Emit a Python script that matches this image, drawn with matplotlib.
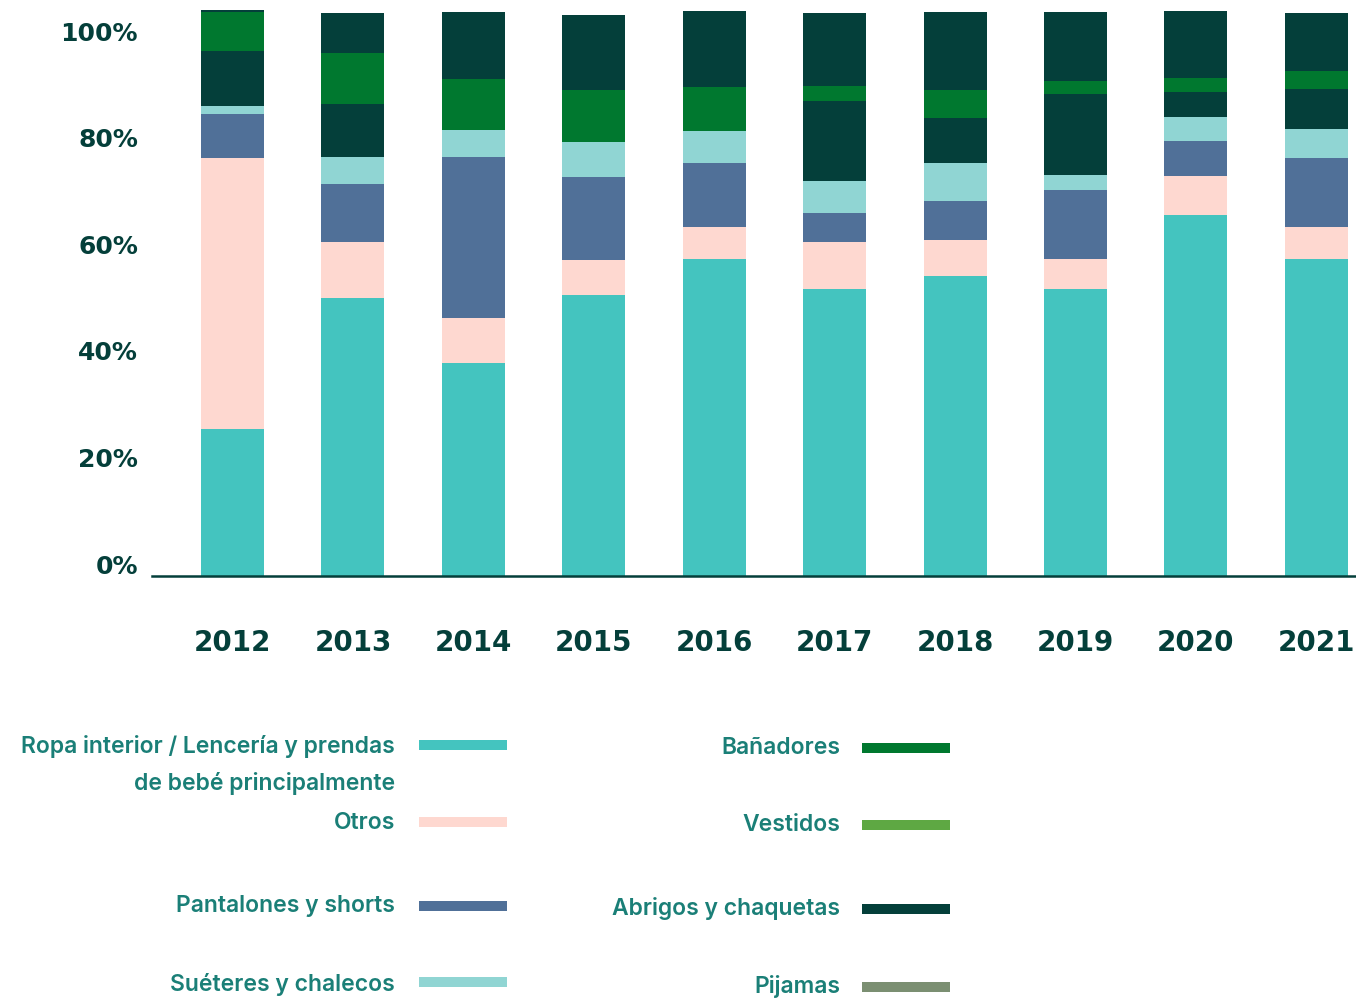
import numpy as np
import matplotlib
matplotlib.use("Agg")
import matplotlib.pyplot as plt
from matplotlib.patches import Rectangle

years = ["2012", "2013", "2014", "2015", "2016", "2017", "2018", "2019", "2020", "2021"]

# shares per year, in %, bottom to top of each bar
ropa_interior = [26.1, 49.3, 37.8, 49.8, 56.2, 50.9, 53.2, 50.9, 64.0, 56.2]
otros = [48.0, 9.9, 8.0, 6.2, 5.7, 8.3, 6.4, 5.3, 6.9, 5.7]
pantalones = [7.8, 10.3, 28.5, 14.7, 11.3, 5.1, 6.9, 12.2, 6.2, 12.2]
sueteres = [1.4, 4.8, 4.8, 6.2, 5.7, 5.7, 6.7, 2.7, 4.3, 5.1]
abrigos = [9.8, 9.4, 0.0, 0.0, 0.0, 14.2, 8.0, 14.4, 4.4, 7.1]
banadores = [6.9, 9.0, 9.0, 9.2, 7.8, 2.7, 5.0, 2.3, 2.5, 3.2]
resto = [0.4, 7.1, 11.9, 13.3, 13.5, 12.9, 13.8, 12.1, 11.9, 10.3]

ytick_labels = ["0%", "20%", "40%", "60%", "80%", "100%"]

legend_left = ["Ropa interior / Lencería y prendas\nde bebé principalmente", "Otros",
               "Pantalones y shorts", "Suéteres y chalecos"]
legend_right = ["Bañadores", "Vestidos", "Abrigos y chaquetas", "Pijamas"]

c_teal = "#44c4bf"
c_pink = "#fed8d0"
c_blue = "#507098"
c_light = "#90d5d3"
c_dark = "#043f3a"
c_green = "#00782f"
c_vest = "#5ea843"
c_pij = "#7b8f72"
c_text = "#1a7f77"

fig = plt.figure(figsize=(13.56, 10.01), dpi=100)
ax = fig.add_axes([152 / 1356, 1 - 576 / 1001, 1 - 152 / 1356, 576 / 1001])

x = np.arange(len(years))
bottom = np.zeros(len(years))
for vals, col in [(ropa_interior, c_teal), (otros, c_pink), (pantalones, c_blue),
                  (sueteres, c_light), (abrigos, c_dark), (banadores, c_green),
                  (resto, c_dark)]:
    ax.bar(x, vals, bottom=bottom, width=0.523, color=col, linewidth=0, zorder=2)
    bottom += np.array(vals)

ax.set_xlim(-0.669, 9.33)
ax.set_ylim(0, 102.1)

for s in ["top", "right", "left"]:
    ax.spines[s].set_visible(False)
ax.spines["bottom"].set_color(c_dark)
ax.spines["bottom"].set_linewidth(1.8)
ax.spines["bottom"].set_zorder(3)

ax.set_xticks(x, years)
ax.tick_params(axis="x", length=0, pad=38, labelsize=20, labelcolor=c_dark)
for lab in ax.get_xticklabels():
    lab.set_fontweight("bold")

# the percent labels sit on their own, slightly tighter scale
ax.set_yticks(np.linspace(2.1, 96.6, 6), ytick_labels)
ax.tick_params(axis="y", length=0, pad=10, labelsize=18, labelcolor=c_dark)
for lab in ax.get_yticklabels():
    lab.set_fontweight("bold")

# legend, drawn by hand in two columns
H, W = 1001, 1356
fkw = dict(family=["Inter", "DejaVu Sans"], fontsize=16.5, fontweight="semibold",
           color=c_text, ha="right", va="center", linespacing=1.78)

left_y = [765, 823, 906, 984]
left_sw = [745, 822, 906, 982]
for lab, ty, sy, col in zip(legend_left, left_y, left_sw, [c_teal, c_pink, c_blue, c_light]):
    fig.text(395 / W, 1 - ty / H, lab, **fkw)
    fig.add_artist(Rectangle((419 / W, 1 - (sy + 5) / H), 88 / W, 10 / H,
                             transform=fig.transFigure, color=col, lw=0))

right_y = [748, 825, 909, 987]
for lab, ty, col in zip(legend_right, right_y, [c_green, c_vest, c_dark, c_pij]):
    fig.text(840 / W, 1 - ty / H, lab, **fkw)
    fig.add_artist(Rectangle((862 / W, 1 - (ty + 5) / H), 88 / W, 10 / H,
                             transform=fig.transFigure, color=col, lw=0))

fig.savefig("out.png", dpi=100)
